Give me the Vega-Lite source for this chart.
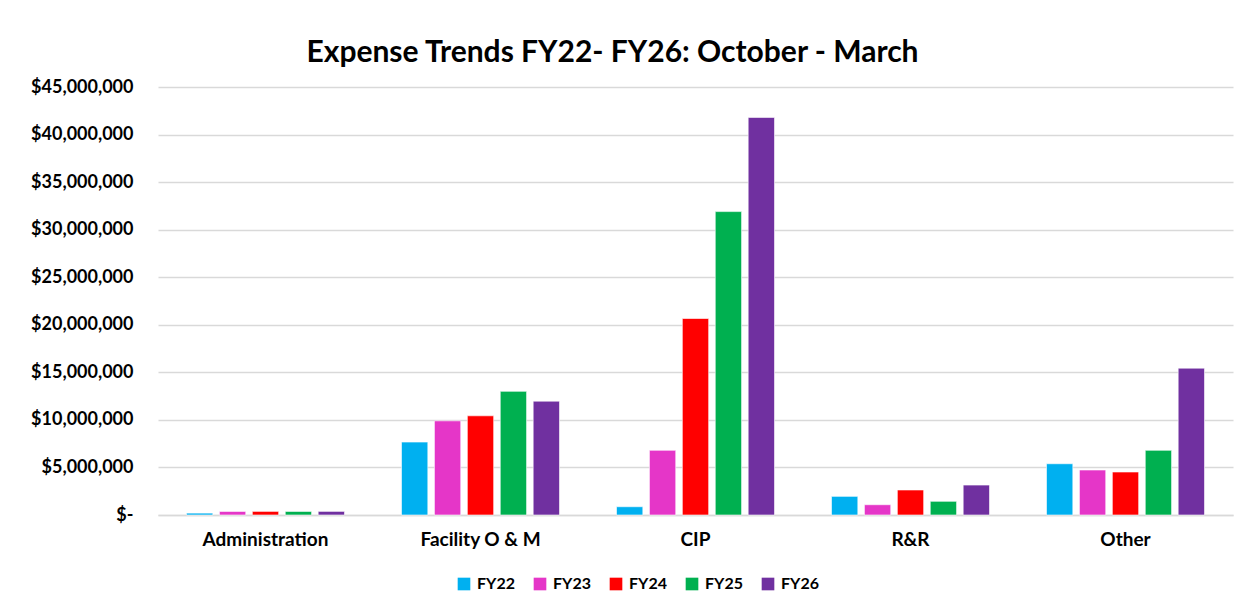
{
  "$schema": "https://vega.github.io/schema/vega-lite/v6.json",
  "autosize": {"type": "none"},
  "width": 1075,
  "height": 428,
  "padding": {"left": 158, "top": 87, "right": 26, "bottom": 101},
  "background": "white",
  "title": {
    "text": "Expense Trends FY22- FY26: October - March",
    "font": "Lato",
    "fontSize": 30,
    "fontWeight": "bold",
    "color": "#000000",
    "anchor": "middle",
    "frame": "group",
    "dx": -83,
    "offset": 10
  },
  "data": {
    "values": [
      {"category": "Administration", "year": "FY22", "amount": 200000},
      {"category": "Administration", "year": "FY23", "amount": 380000},
      {"category": "Administration", "year": "FY24", "amount": 380000},
      {"category": "Administration", "year": "FY25", "amount": 380000},
      {"category": "Administration", "year": "FY26", "amount": 380000},
      {"category": "Facility O & M", "year": "FY22", "amount": 7670000},
      {"category": "Facility O & M", "year": "FY23", "amount": 9900000},
      {"category": "Facility O & M", "year": "FY24", "amount": 10430000},
      {"category": "Facility O & M", "year": "FY25", "amount": 13000000},
      {"category": "Facility O & M", "year": "FY26", "amount": 11970000},
      {"category": "CIP", "year": "FY22", "amount": 870000},
      {"category": "CIP", "year": "FY23", "amount": 6800000},
      {"category": "CIP", "year": "FY24", "amount": 20660000},
      {"category": "CIP", "year": "FY25", "amount": 31900000},
      {"category": "CIP", "year": "FY26", "amount": 41800000},
      {"category": "R&R", "year": "FY22", "amount": 1960000},
      {"category": "R&R", "year": "FY23", "amount": 1080000},
      {"category": "R&R", "year": "FY24", "amount": 2630000},
      {"category": "R&R", "year": "FY25", "amount": 1440000},
      {"category": "R&R", "year": "FY26", "amount": 3150000},
      {"category": "Other", "year": "FY22", "amount": 5390000},
      {"category": "Other", "year": "FY23", "amount": 4730000},
      {"category": "Other", "year": "FY24", "amount": 4520000},
      {"category": "Other", "year": "FY25", "amount": 6800000},
      {"category": "Other", "year": "FY26", "amount": 15440000}
    ]
  },
  "mark": {"type": "bar", "stroke": "white", "strokeWidth": 1, "strokeOpacity": 0.6},
  "encoding": {
    "x": {
      "field": "category",
      "type": "nominal",
      "sort": ["Administration", "Facility O & M", "CIP", "R&R", "Other"],
      "scale": {"paddingInner": 0.265, "paddingOuter": 0.1325},
      "axis": {
        "title": null,
        "labelAngle": 0,
        "labelFont": "Lato",
        "labelFontSize": 19,
        "labelFontWeight": "bold",
        "labelColor": "#000000",
        "labelPadding": 15,
        "ticks": false,
        "domain": true,
        "domainColor": "#D9D9D9",
        "domainWidth": 1.5,
        "grid": false
      }
    },
    "xOffset": {
      "field": "year",
      "type": "nominal",
      "scale": {"paddingInner": 0.2, "paddingOuter": 0}
    },
    "y": {
      "field": "amount",
      "type": "quantitative",
      "scale": {"domain": [0, 45000000], "nice": false},
      "axis": {
        "title": null,
        "values": [0, 5000000, 10000000, 15000000, 20000000, 25000000, 30000000, 35000000, 40000000, 45000000],
        "labelExpr": "datum.value == 0 ? '$-' : format(datum.value, '$,.0f')",
        "labelOverlap": false,
        "labelFlush": false,
        "labelFont": "Lato",
        "labelFontSize": 18,
        "labelFontWeight": "bold",
        "labelColor": "#000000",
        "labelPadding": 25,
        "ticks": false,
        "domain": false,
        "grid": true,
        "gridColor": "#D9D9D9",
        "gridWidth": 1.5
      }
    },
    "color": {
      "field": "year",
      "type": "nominal",
      "scale": {
        "domain": ["FY22", "FY23", "FY24", "FY25", "FY26"],
        "range": ["#00B0F0", "#E536C8", "#FF0000", "#00B050", "#7030A0"]
      },
      "legend": {
        "title": null,
        "orient": "none",
        "direction": "horizontal",
        "legendX": 298,
        "legendY": 489,
        "symbolType": "square",
        "symbolSize": 160,
        "symbolStrokeWidth": 0,
        "symbolOpacity": 1,
        "labelFont": "Lato",
        "labelFontSize": 16,
        "labelFontWeight": "bold",
        "labelColor": "#000000",
        "labelOffset": 5,
        "columnPadding": 17,
        "padding": 0
      }
    }
  },
  "config": {
    "view": {"stroke": null}
  }
}
